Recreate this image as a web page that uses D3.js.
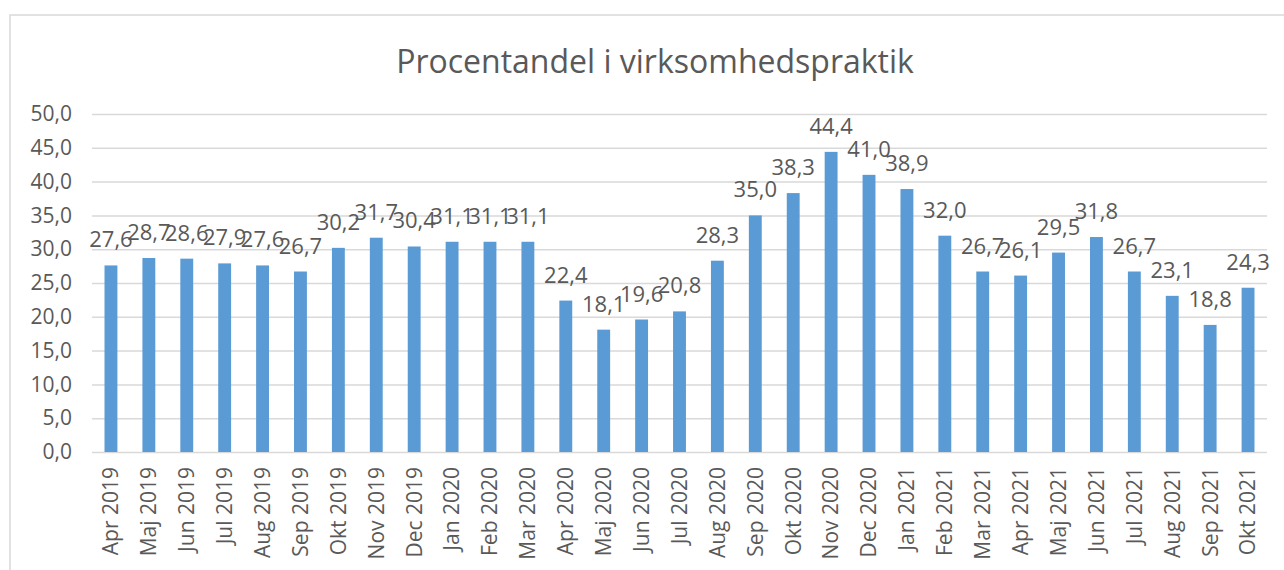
<!DOCTYPE html>
<html>
<head>
<meta charset="utf-8">
<script src="https://cdn.jsdelivr.net/npm/d3@7"></script>
<style>
  body { margin: 0; background: #fff; }
  text { font-family: "Open Sans", sans-serif; fill: #595959; }
</style>
</head>
<body>
<script>

// months shown on the x axis
var months = ["Apr 2019", "Maj 2019", "Jun 2019", "Jul 2019", "Aug 2019", "Sep 2019", "Okt 2019", "Nov 2019",
  "Dec 2019", "Jan 2020", "Feb 2020", "Mar 2020", "Apr 2020", "Maj 2020", "Jun 2020", "Jul 2020",
  "Aug 2020", "Sep 2020", "Okt 2020", "Nov 2020", "Dec 2020", "Jan 2021", "Feb 2021", "Mar 2021",
  "Apr 2021", "Maj 2021", "Jun 2021", "Jul 2021", "Aug 2021", "Sep 2021", "Okt 2021"];

// procent in virksomhedspraktik
var values = [27.6, 28.7, 28.6, 27.9, 27.6, 26.7, 30.2, 31.7,
  30.4, 31.1, 31.1, 31.1, 22.4, 18.1, 19.6, 20.8,
  28.3, 35.0, 38.3, 44.4, 41.0, 38.9, 32.0, 26.7,
  26.1, 29.5, 31.8, 26.7, 23.1, 18.8, 24.3];

var yTicks = [0, 5, 10, 15, 20, 25, 30, 35, 40, 45, 50];

var title = "Procentandel i virksomhedspraktik";

var data = months.map(function(m, i) { return {month: m, value: values[i]}; });

var W = 1284, H = 570;
var margin = {top: 114, right: 17, bottom: 118, left: 92};
var width = W - margin.left - margin.right, height = H - margin.top - margin.bottom;

var fmt = function(v) { return d3.format(".1f")(v).replace(".", ","); };

var svg = d3.select("body").append("svg")
    .attr("width", W)
    .attr("height", H);

// chart border (runs off the right and bottom like in the source)
svg.append("rect")
    .attr("x", 10).attr("y", 15)
    .attr("width", W + 20).attr("height", H + 20)
    .attr("fill", "none")
    .attr("stroke", "#d9d9d9")
    .attr("stroke-width", 1.5);

svg.append("text")
    .attr("x", 655)
    .attr("y", 73)
    .attr("text-anchor", "middle")
    .style("font-size", "32px")
    .text(title);

var g = svg.append("g")
    .attr("transform", "translate(" + margin.left + "," + margin.top + ")");

var xScale = d3.scaleBand()
    .domain(months)
    .range([0, width])
    .paddingInner(0.66)
    .paddingOuter(0.33);

var yScale = d3.scaleLinear()
    .domain([0, 50])
    .range([height, 0]);

// gridlines + y labels
var yAxis = g.append("g")
    .call(d3.axisLeft(yScale).tickValues(yTicks).tickSize(-width).tickPadding(20).tickFormat(fmt));
yAxis.select(".domain").remove();
yAxis.selectAll(".tick line").attr("stroke", "#d9d9d9").attr("stroke-width", 1.5);
yAxis.selectAll(".tick text").style("font-size", "21px").attr("fill", "#595959")
    .style("font-family", "Open Sans, sans-serif");

g.selectAll(".bar")
    .data(data)
    .enter().append("rect")
    .attr("class", "bar")
    .attr("x", function(d) { return xScale(d.month); })
    .attr("width", xScale.bandwidth())
    .attr("y", function(d) { return yScale(d.value); })
    .attr("height", function(d) { return height - yScale(d.value); })
    .attr("fill", "#5b9bd5");

g.selectAll(".lbl")
    .data(data)
    .enter().append("text")
    .attr("class", "lbl")
    .attr("x", function(d) { return xScale(d.month) + xScale.bandwidth() / 2; })
    .attr("y", function(d) { return yScale(d.value) - 18; })
    .attr("text-anchor", "middle")
    .style("font-size", "22px")
    .text(function(d) { return fmt(d.value); });

// x axis, labels turned on their side
var xAxis = g.append("g")
    .attr("transform", "translate(0," + height + ")")
    .call(d3.axisBottom(xScale).tickSize(0));
xAxis.select(".domain").remove();
xAxis.selectAll(".tick text")
    .style("font-size", "21px")
    .attr("fill", "#595959")
    .style("font-family", "Open Sans, sans-serif")
    .attr("transform", "rotate(-90)")
    .attr("text-anchor", "end")
    .attr("x", -15)
    .attr("y", 0)
    .attr("dy", "0.35em");

</script>
</body>
</html>
